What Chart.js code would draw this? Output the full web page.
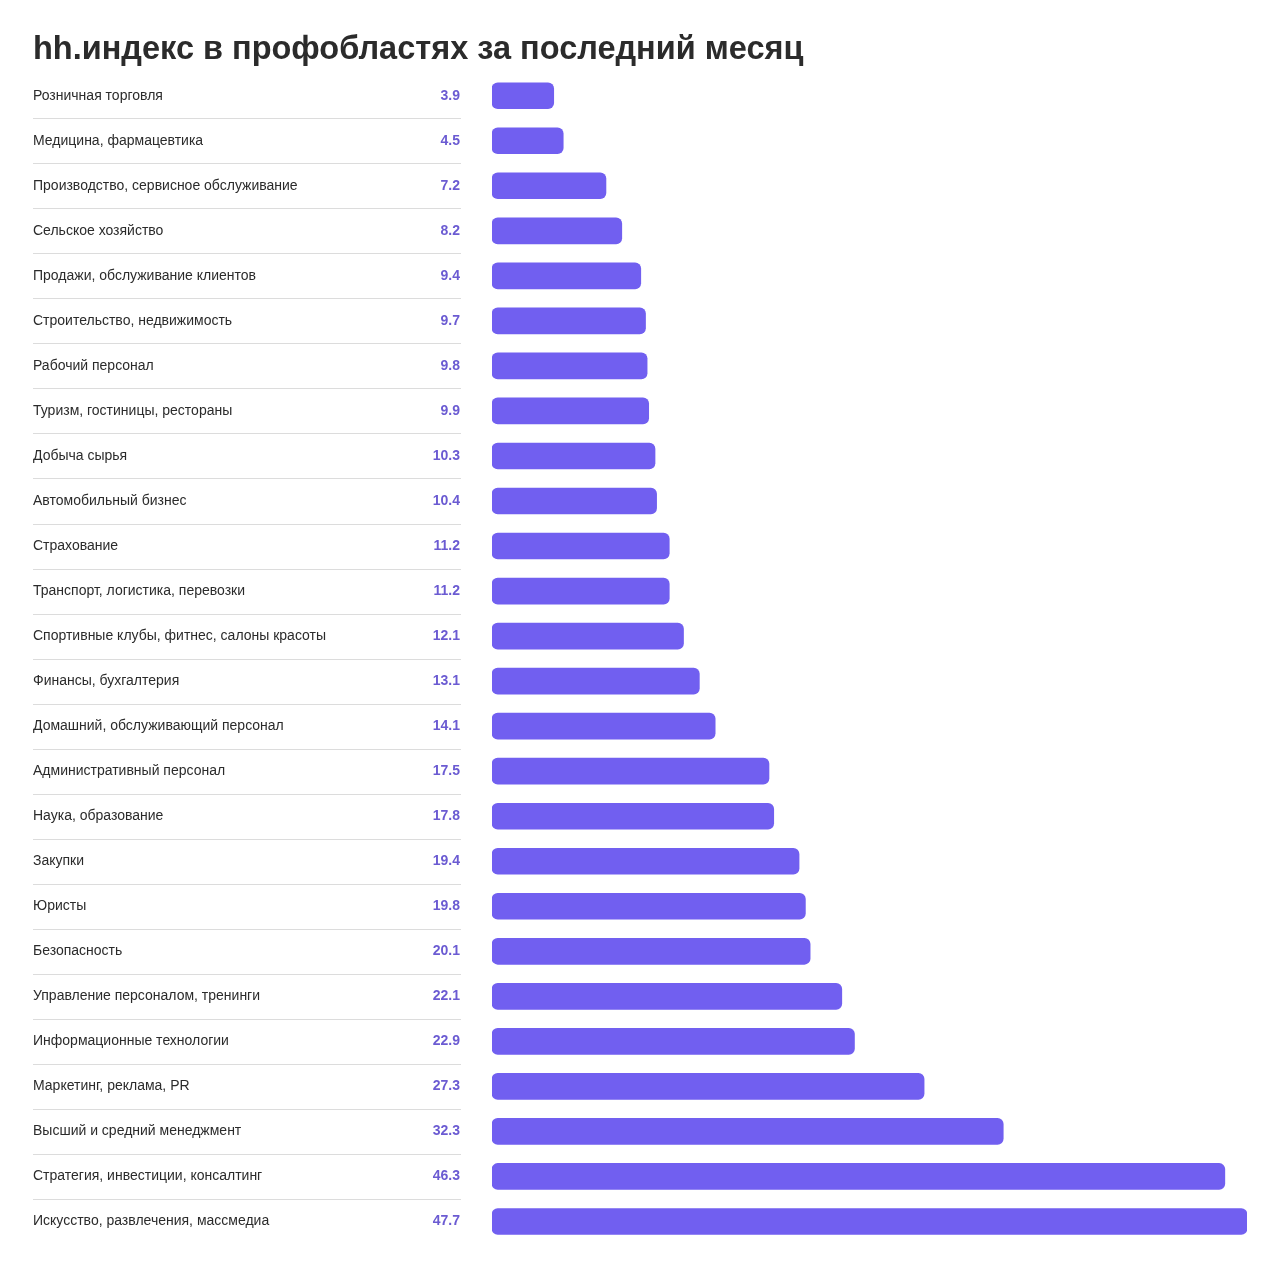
<!DOCTYPE html>
<html>
<head>
<meta charset="utf-8">
<script src="https://cdn.jsdelivr.net/npm/chart.js@4"></script>
<style>
  html, body { margin: 0; padding: 0; background: #fff; }
  #wrap { width: 1280px; height: 1267px; }
</style>
</head>
<body>
<div id="wrap"><canvas id="chart"></canvas></div>
<script>
const categories = [
  'Розничная торговля',
  'Медицина, фармацевтика',
  'Производство, сервисное обслуживание',
  'Сельское хозяйство',
  'Продажи, обслуживание клиентов',
  'Строительство, недвижимость',
  'Рабочий персонал',
  'Туризм, гостиницы, рестораны',
  'Добыча сырья',
  'Автомобильный бизнес',
  'Страхование',
  'Транспорт, логистика, перевозки',
  'Спортивные клубы, фитнес, салоны красоты',
  'Финансы, бухгалтерия',
  'Домашний, обслуживающий персонал',
  'Административный персонал',
  'Наука, образование',
  'Закупки',
  'Юристы',
  'Безопасность',
  'Управление персоналом, тренинги',
  'Информационные технологии',
  'Маркетинг, реклама, PR',
  'Высший и средний менеджмент',
  'Стратегия, инвестиции, консалтинг',
  'Искусство, развлечения, массмедиа'
];
const hhIndex = [3.9, 4.5, 7.2, 8.2, 9.4, 9.7, 9.8, 9.9, 10.3, 10.4, 11.2, 11.2, 12.1, 13.1, 14.1,
  17.5, 17.8, 19.4, 19.8, 20.1, 22.1, 22.9, 27.3, 32.3, 46.3, 47.7];
const titleText = 'hh.индекс в профобластях за последний месяц';

const FONT = 'Arial, "Liberation Sans", Helvetica, sans-serif';

// row labels, values and separators, placed by the y scale
const rowsPlugin = {
  id: 'rows',
  afterDraw(chart) {
    const { ctx } = chart;
    const y = chart.scales.y;
    ctx.save();
    ctx.textBaseline = 'middle';
    categories.forEach((name, i) => {
      const cy = y.getPixelForValue(i);
      ctx.fillStyle = '#2b2b2b';
      ctx.font = '14px ' + FONT;
      ctx.textAlign = 'left';
      ctx.fillText(name, 33, cy);
      ctx.fillStyle = '#6b5bd2';
      ctx.font = 'bold 14px ' + FONT;
      ctx.textAlign = 'right';
      ctx.fillText(hhIndex[i].toFixed(1), 460, cy);
      if (i < categories.length - 1) {
        const sy = Math.round((cy + y.getPixelForValue(i + 1)) / 2) + 0.5;
        ctx.strokeStyle = '#dcdcdc';
        ctx.lineWidth = 1;
        ctx.beginPath();
        ctx.moveTo(33, sy);
        ctx.lineTo(461, sy);
        ctx.stroke();
      }
    });
    ctx.restore();
  }
};

new Chart(document.getElementById('chart'), {
  type: 'bar',
  data: {
    labels: categories,
    datasets: [{
      data: hhIndex,
      backgroundColor: '#715ff0',
      borderRadius: 6,
      borderSkipped: false,
      barThickness: 26
    }]
  },
  options: {
    indexAxis: 'y',
    responsive: true,
    maintainAspectRatio: false,
    animation: false,
    layout: { padding: { left: 33, right: 33, top: 0, bottom: 23 } },
    plugins: {
      legend: { display: false },
      tooltip: { enabled: false },
      title: {
        display: true,
        text: titleText,
        align: 'start',
        color: '#2b2b2b',
        font: { family: FONT, size: 32.5, weight: 'bold', lineHeight: 1.2 },
        padding: { top: 30.5, bottom: 3.7 }
      }
    },
    scales: {
      x: { display: false, min: 0, max: 47.7 },
      y: {
        display: true,
        ticks: { display: false },
        grid: { display: false },
        border: { display: false },
        afterFit(scale) { scale.width = 459; }
      }
    }
  },
  plugins: [rowsPlugin]
});
</script>
</body>
</html>
